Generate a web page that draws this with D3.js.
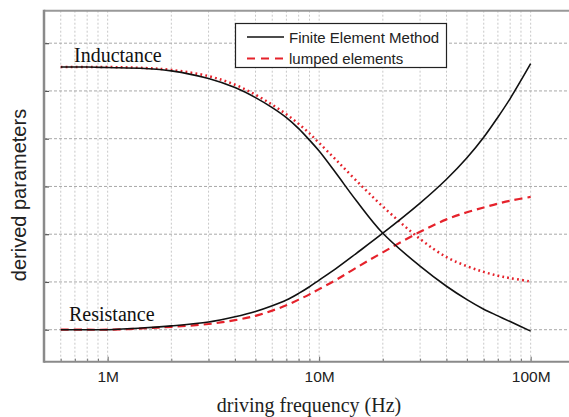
<!DOCTYPE html>
<html><head><meta charset="utf-8">
<script src="https://cdn.jsdelivr.net/npm/d3@7"></script>
<style>body{margin:0;background:#fff}svg{display:block}</style>
</head><body><svg id="c" width="569" height="417"></svg>
<script>
const freqs = [0.6e6,0.8e6,1e6,1.5e6,2e6,3e6,4e6,5e6,6e6,7e6,8e6,9e6,10e6,12e6,15e6,20e6,30e6,40e6,50e6,60e6,70e6,80e6,100e6];
const femInductance   = [5.50,5.50,5.49,5.47,5.42,5.26,5.07,4.86,4.65,4.44,4.21,3.97,3.74,3.28,2.70,2.02,1.33,0.91,0.63,0.43,0.29,0.17,-0.03];
const femResistance   = [0.00,0.00,0.00,0.04,0.08,0.16,0.27,0.38,0.50,0.62,0.76,0.90,1.04,1.28,1.60,2.02,2.65,3.15,3.60,4.03,4.45,4.84,5.57];
const lumpInductance  = [5.50,5.50,5.50,5.48,5.44,5.31,5.13,4.92,4.71,4.51,4.31,4.11,3.91,3.56,3.12,2.58,1.90,1.52,1.33,1.21,1.13,1.08,1.01];
const lumpResistance  = [0.00,0.00,0.00,0.03,0.06,0.12,0.20,0.29,0.40,0.51,0.63,0.74,0.85,1.04,1.30,1.62,2.05,2.31,2.46,2.56,2.64,2.70,2.78];
const yGridValues = [0,1,2,3,4,5,6];
const xMajorTicks = [1e6,1e7,1e8];
const xMajorLabels = ["1M","10M","100M"];
const xMinorTicks = [0.6e6,0.7e6,0.8e6,0.9e6,2e6,3e6,4e6,5e6,6e6,7e6,8e6,9e6,2e7,3e7,4e7,5e7,6e7,7e7,8e7,9e7];
const legendLabels = ["Finite Element Method","lumped elements"];

const svg = d3.select("#c");
const x = d3.scaleLog().domain([5e5,1.5e8]).range([44,567.9]);
const y = d3.scaleLinear().domain([-0.67,6.68]).range([361.7,10.7]);
const pTop = 10.7, pBot = 361.7, pLeft = 44, pRight = 569;

// vertical grid
svg.append("g").selectAll("line").data(xMinorTicks.concat(xMajorTicks)).join("line")
  .attr("x1",d=>x(d)).attr("x2",d=>x(d)).attr("y1",pTop).attr("y2",pBot)
  .attr("stroke","#c8c8c8").attr("stroke-width",1).attr("stroke-dasharray","2,2");
// horizontal grid
svg.append("g").selectAll("line").data(yGridValues).join("line")
  .attr("x1",pLeft).attr("x2",pRight).attr("y1",d=>y(d)).attr("y2",d=>y(d))
  .attr("stroke","#a8a8a8").attr("stroke-width",1).attr("stroke-dasharray","3,2");

// axes via d3
const yAxis = d3.axisLeft(y).tickValues(yGridValues).tickSize(-5).tickFormat("");
svg.append("g").attr("transform",`translate(${pLeft},0)`).call(yAxis)
  .call(g=>{g.select(".domain").remove(); g.selectAll(".tick line").attr("stroke","#555").attr("stroke-width",1.2);});
const xAxisMinor = d3.axisBottom(x).tickValues(xMinorTicks).tickSize(-3).tickFormat("");
svg.append("g").attr("transform",`translate(0,${pBot})`).call(xAxisMinor)
  .call(g=>{g.select(".domain").remove(); g.selectAll(".tick line").attr("stroke","#777");});
const xAxis = d3.axisBottom(x).tickValues(xMajorTicks).tickSize(-5).tickPadding(9)
  .tickFormat((d,i)=>xMajorLabels[i]);
svg.append("g").attr("transform",`translate(0,${pBot})`).call(xAxis)
  .call(g=>{g.select(".domain").remove(); g.selectAll(".tick line").attr("stroke","#666");
    g.selectAll("text").attr("font-family","Liberation Sans, Arial, sans-serif").attr("font-size",15.5).attr("fill","#222");});

// frame
svg.append("line").attr("x1",pLeft).attr("x2",pRight).attr("y1",pTop).attr("y2",pTop).attr("stroke","#999").attr("stroke-width",2);
svg.append("line").attr("x1",pLeft).attr("x2",pRight).attr("y1",pBot).attr("y2",pBot).attr("stroke","#8a8a8a").attr("stroke-width",2);
svg.append("line").attr("x1",pLeft).attr("x2",pLeft).attr("y1",pTop-1).attr("y2",pBot+1).attr("stroke","#8a8a8a").attr("stroke-width",2.5);

// curves
const line = d3.line().x((d,i)=>x(freqs[i])).y(d=>y(d)).curve(d3.curveCatmullRom.alpha(0.5));
const red = "#e5222b";
svg.append("path").attr("d",line(lumpInductance)).attr("fill","none").attr("stroke",red).attr("stroke-width",2.5).attr("stroke-dasharray","1.8,3.2").attr("stroke-linecap","butt");
svg.append("path").attr("d",line(lumpResistance)).attr("fill","none").attr("stroke",red).attr("stroke-width",2.2).attr("stroke-dasharray","8,5");
svg.append("path").attr("d",line(femInductance)).attr("fill","none").attr("stroke","#111").attr("stroke-width",1.6);
svg.append("path").attr("d",line(femResistance)).attr("fill","none").attr("stroke","#111").attr("stroke-width",1.6);

// curve labels
svg.append("text").attr("x",74).attr("y",62).text("Inductance")
  .attr("font-family","Liberation Serif, Times New Roman, serif").attr("font-size",20).attr("fill","#111");
svg.append("text").attr("x",69).attr("y",320.5).text("Resistance")
  .attr("font-family","Liberation Serif, Times New Roman, serif").attr("font-size",20).attr("fill","#111");

// legend
const lg = svg.append("g");
lg.append("rect").attr("x",235.5).attr("y",23.5).attr("width",211).attr("height",44)
  .attr("fill","#fff").attr("stroke","#222").attr("stroke-width",1.2);
lg.append("line").attr("x1",247).attr("x2",284).attr("y1",37).attr("y2",37).attr("stroke","#111").attr("stroke-width",1.6);
lg.append("line").attr("x1",247).attr("x2",284).attr("y1",58.5).attr("y2",58.5).attr("stroke",red).attr("stroke-width",2.2).attr("stroke-dasharray","8,6");
lg.selectAll("text.l").data(legendLabels).join("text").attr("class","l")
  .attr("x",289).attr("y",(d,i)=>42.5+i*21.5).text(d=>d)
  .attr("font-family","Liberation Sans, Arial, sans-serif").attr("font-size",15).attr("fill","#222");

// axis titles
svg.append("text").attr("x",309).attr("y",412).attr("text-anchor","middle").text("driving frequency (Hz)")
  .attr("font-family","Liberation Serif, Times New Roman, serif").attr("font-size",20).attr("fill","#222");
svg.append("text").attr("transform","translate(26,195) rotate(-90)").attr("text-anchor","middle").text("derived parameters")
  .attr("font-family","Liberation Sans, Arial, sans-serif").attr("font-size",20).attr("fill","#222");
</script></body></html>
